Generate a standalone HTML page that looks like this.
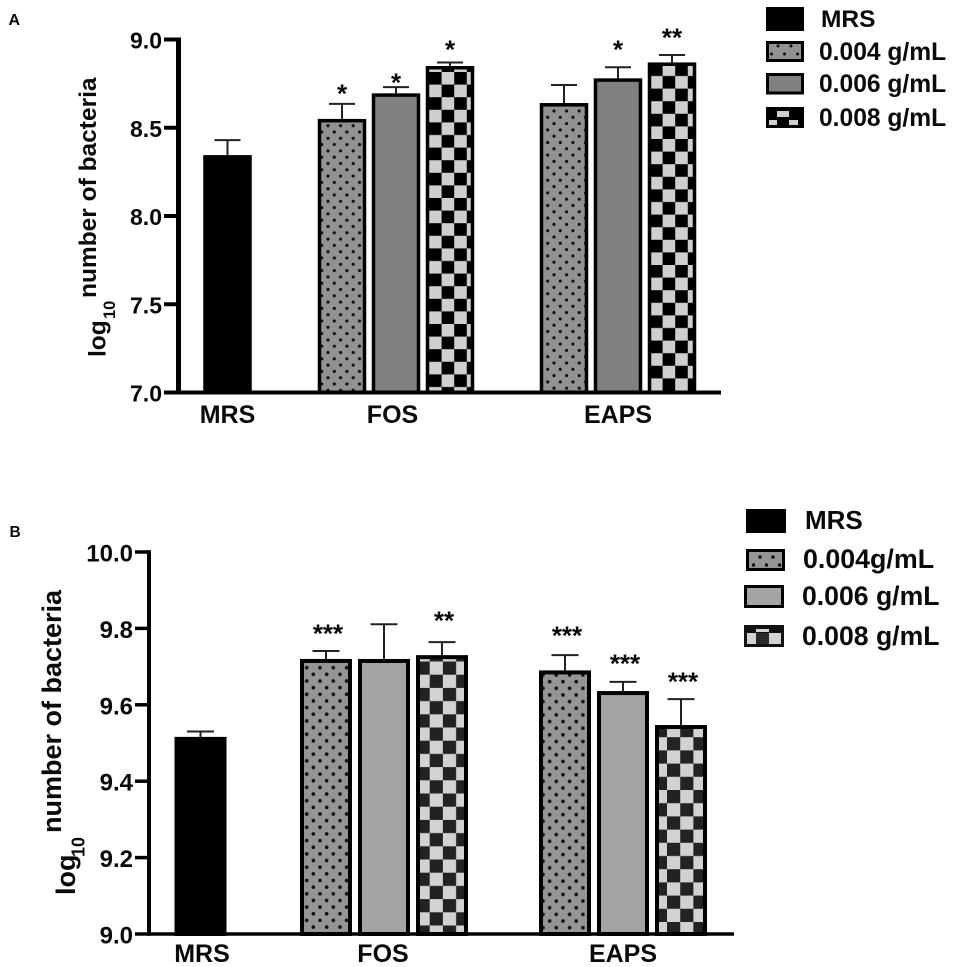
<!DOCTYPE html>
<html lang="en">
<head>
<meta charset="utf-8">
<title>log10 number of bacteria</title>
<style>
html,body{margin:0;padding:0;background:#fff;}
svg{display:block;filter:blur(0.35px);}
text{font-family:"Liberation Sans",Arial,sans-serif;font-weight:bold;fill:#0a0a0a;}
</style>
</head>
<body>
<svg id="figure" xmlns="http://www.w3.org/2000/svg" width="957" height="967" viewBox="0 0 957 967">
<defs>
<pattern id="dots-a1" patternUnits="userSpaceOnUse" width="12.6" height="12.6" patternTransform="translate(328 125.7)"><rect x="-1" y="-1" width="15" height="15" fill="#929292"/><circle cx="0" cy="0" r="1.6" fill="#111"/><circle cx="12.6" cy="0" r="1.6" fill="#111"/><circle cx="0" cy="12.6" r="1.6" fill="#111"/><circle cx="12.6" cy="12.6" r="1.6" fill="#111"/><circle cx="6.3" cy="6.3" r="1.6" fill="#111"/></pattern>
<pattern id="dots-a2" patternUnits="userSpaceOnUse" width="12.6" height="12.6" patternTransform="translate(554 111)"><rect x="-1" y="-1" width="15" height="15" fill="#929292"/><circle cx="0" cy="0" r="1.6" fill="#111"/><circle cx="12.6" cy="0" r="1.6" fill="#111"/><circle cx="0" cy="12.6" r="1.6" fill="#111"/><circle cx="12.6" cy="12.6" r="1.6" fill="#111"/><circle cx="6.3" cy="6.3" r="1.6" fill="#111"/></pattern>
<pattern id="dots-b1" patternUnits="userSpaceOnUse" width="13.3" height="13.3" patternTransform="translate(306.7 667.7)"><rect x="-1" y="-1" width="16" height="16" fill="#959597"/><circle cx="0" cy="0" r="1.8" fill="#111"/><circle cx="13.3" cy="0" r="1.8" fill="#111"/><circle cx="0" cy="13.3" r="1.8" fill="#111"/><circle cx="13.3" cy="13.3" r="1.8" fill="#111"/><circle cx="6.65" cy="6.65" r="1.8" fill="#111"/></pattern>
<pattern id="dots-b2" patternUnits="userSpaceOnUse" width="13.3" height="13.3" patternTransform="translate(543 675)"><rect x="-1" y="-1" width="16" height="16" fill="#959597"/><circle cx="0" cy="0" r="1.8" fill="#111"/><circle cx="13.3" cy="0" r="1.8" fill="#111"/><circle cx="0" cy="13.3" r="1.8" fill="#111"/><circle cx="13.3" cy="13.3" r="1.8" fill="#111"/><circle cx="6.65" cy="6.65" r="1.8" fill="#111"/></pattern>
<pattern id="check-a1" patternUnits="userSpaceOnUse" width="25.2" height="25.2" patternTransform="translate(429 72)"><rect width="25.2" height="25.2" fill="#cfcfcf"/><rect width="12.6" height="12.6" fill="#000"/><rect x="12.6" y="12.6" width="12.6" height="12.6" fill="#000"/></pattern>
<pattern id="check-a2" patternUnits="userSpaceOnUse" width="25.2" height="25.2" patternTransform="translate(650 63.4)"><rect width="25.2" height="25.2" fill="#cfcfcf"/><rect width="12.6" height="12.6" fill="#000"/><rect x="12.6" y="12.6" width="12.6" height="12.6" fill="#000"/></pattern>
<pattern id="check-b1" patternUnits="userSpaceOnUse" width="26.4" height="26.4" patternTransform="translate(416.5 661.5)"><rect width="26.4" height="26.4" fill="#d2d2d2"/><rect width="13.2" height="13.2" fill="#222"/><rect x="13.2" y="13.2" width="13.2" height="13.2" fill="#222"/></pattern>
<pattern id="check-b2" patternUnits="userSpaceOnUse" width="26.4" height="26.4" patternTransform="translate(667 922)"><rect width="26.4" height="26.4" fill="#d2d2d2"/><rect width="13.2" height="13.2" fill="#222"/><rect x="13.2" y="13.2" width="13.2" height="13.2" fill="#222"/></pattern>
<pattern id="dots-leg-a" patternUnits="userSpaceOnUse" width="26" height="16" patternTransform="translate(778 46)"><rect width="26" height="16" fill="#929292"/><circle cx="0" cy="0" r="1.5" fill="#111"/><circle cx="26" cy="0" r="1.5" fill="#111"/><circle cx="0" cy="16" r="1.5" fill="#111"/><circle cx="26" cy="16" r="1.5" fill="#111"/><circle cx="13" cy="0" r="1.5" fill="#111"/><circle cx="13" cy="16" r="1.5" fill="#111"/><circle cx="6.5" cy="8" r="1.5" fill="#111"/><circle cx="19.5" cy="8" r="1.5" fill="#111"/></pattern>
<pattern id="dots-leg-b" patternUnits="userSpaceOnUse" width="26" height="16" patternTransform="translate(760 557)"><rect width="26" height="16" fill="#959597"/><circle cx="0" cy="0" r="1.7" fill="#111"/><circle cx="26" cy="0" r="1.7" fill="#111"/><circle cx="0" cy="16" r="1.7" fill="#111"/><circle cx="26" cy="16" r="1.7" fill="#111"/><circle cx="13" cy="0" r="1.7" fill="#111"/><circle cx="13" cy="16" r="1.7" fill="#111"/><circle cx="6.5" cy="8" r="1.7" fill="#111"/><circle cx="19.5" cy="8" r="1.7" fill="#111"/></pattern>
</defs>

<text x="8.5" y="25" font-size="16">A</text>
<text x="9.5" y="537" font-size="15.5">B</text>

<g id="chart-a"></g>
<g id="chart-b"></g>

<g>
<text transform="translate(96 298) rotate(-90)" font-size="24.5">number of bacteria</text>
<text transform="translate(105.5 357) rotate(-90)" font-size="24.5">log</text>
<text transform="translate(115 319) rotate(-90)" font-size="16.5">10</text>
</g>
<g>
<text transform="translate(61 833) rotate(-90)" font-size="27">number of bacteria</text>
<text transform="translate(75 895) rotate(-90)" font-size="27">log</text>
<text transform="translate(84.5 857) rotate(-90)" font-size="18">10</text>
</g>

<g>
<rect x="766" y="7" width="38" height="24" fill="#000"/>
<text x="821" y="27" font-size="24.5">MRS</text>
<rect x="767.5" y="42.5" width="35" height="18" fill="url(#dots-leg-a)" stroke="#000" stroke-width="3"/>
<text x="819" y="60" font-size="24.6">0.004 g/mL</text>
<rect x="767.5" y="74.5" width="35" height="18.5" fill="#808080" stroke="#000" stroke-width="3"/>
<text x="819" y="92" font-size="24.6">0.006 g/mL</text>
<g>
<rect x="766" y="107" width="38" height="21" fill="#000"/>
<rect x="777" y="111" width="12" height="6" fill="#cfcfcf"/>
<rect x="769" y="120" width="8" height="5" fill="#cfcfcf"/>
<rect x="789" y="120" width="9" height="5" fill="#cfcfcf"/>
</g>
<text x="819" y="126" font-size="24.6">0.008 g/mL</text>
</g>

<g>
<rect x="746" y="509" width="40" height="24" fill="#000"/>
<text x="805" y="529" font-size="26">MRS</text>
<rect x="747.5" y="550.5" width="36" height="19" fill="url(#dots-leg-b)" stroke="#000" stroke-width="3"/>
<text x="803" y="568" font-size="26.8">0.004g/mL</text>
<rect x="745.5" y="586.5" width="37" height="20" fill="#a3a3a6" stroke="#000" stroke-width="3"/>
<text x="802" y="605" font-size="26.6">0.006 g/mL</text>
<g>
<rect x="744" y="625" width="40" height="22" fill="#111"/>
<rect x="747" y="633" width="9" height="11" fill="#d2d2d2"/>
<rect x="769" y="633" width="12" height="11" fill="#d2d2d2"/>
<rect x="756" y="629" width="13" height="3" fill="#d2d2d2"/>
<rect x="756" y="633" width="13" height="11" fill="#2a2a2a"/>
</g>
<text x="802" y="645" font-size="26.6">0.008 g/mL</text>
</g>
</svg>

<script>
// Shared categories
const groupNames = ["MRS", "FOS", "EAPS"];
const barGroups = [0, 1, 1, 1, 2, 2, 2];
const barSlots = [0, 0, 1, 2, 0, 1, 2];

// Panel A data
const valuesA = [8.345, 8.55, 8.695, 8.85, 8.64, 8.78, 8.87];
const errorsA = [0.085, 0.085, 0.035, 0.02, 0.102, 0.063, 0.042];
const sigLabelsA = ["", "*", "*", "*", "", "*", "**"];
const sigHeightsA = [0, 8.714, 8.776, 8.963, 0, 8.963, 9.031];
const tickLabelsA = ["7.0", "7.5", "8.0", "8.5", "9.0"];

// Panel B data
const valuesB = [9.516, 9.72, 9.72, 9.73, 9.69, 9.636, 9.547];
const errorsB = [0.014, 0.021, 0.091, 0.034, 0.04, 0.024, 0.068];
const sigLabelsB = ["", "***", "", "**", "***", "***", "***"];
const sigHeightsB = [0, 9.796, 0, 9.83, 9.791, 9.717, 9.67];
const tickLabelsB = ["9.0", "9.2", "9.4", "9.6", "9.8", "10.0"];

const SVG_NS = "http://www.w3.org/2000/svg";

function make(parent, tag, attrs, text) {
  const el = document.createElementNS(SVG_NS, tag);
  for (const k in attrs) el.setAttribute(k, attrs[k]);
  if (text !== undefined) el.textContent = text;
  parent.appendChild(el);
  return el;
}

function drawPanel(root, cfg) {
  const min = parseFloat(cfg.ticks[0]);
  const max = parseFloat(cfg.ticks[cfg.ticks.length - 1]);
  const y = v => cfg.yBottom + (v - min) / (max - min) * (cfg.yTop - cfg.yBottom);
  const x = i => cfg.groupStart[barGroups[i]] + barSlots[i] * cfg.slotStep;

  cfg.values.forEach((v, i) => {
    const cx = x(i);
    const top = y(v);
    const errTop = y(v + cfg.errors[i]);
    const half = cfg.barWidth / 2;
    const s = cfg.barStroke;

    const stem = make(root, "line", {x1: cx, x2: cx, y1: top, y2: errTop, stroke: "#222", "stroke-width": 2});
    
    
    const cap = make(root, "line", {x1: cx - cfg.capHalf, x2: cx + cfg.capHalf, y1: errTop, y2: errTop, stroke: "#222", "stroke-width": 2});
    
    

    const bar = make(root, "rect", {
      x: cx - half + s / 2,
      y: top + s / 2,
      width: cfg.barWidth - s,
      height: Math.max(0, cfg.yBottom - top - s / 2),
      fill: cfg.fills[i],
      stroke: "#000",
      "stroke-width": s
    });
    
    

    if (cfg.sigLabels[i]) {
      const star = make(root, "text", {
        x: cx + cfg.sigShift,
        y: y(cfg.sigHeights[i]) + 12.5,
        "font-size": 26,
        "text-anchor": "middle"
      }, cfg.sigLabels[i]);
      
      
    }
  });

  const yAxis = make(root, "line", {x1: cfg.axisX, x2: cfg.axisX, y1: cfg.yTop - cfg.tickWidth / 2, y2: cfg.yBottom + cfg.tickWidth / 2, stroke: "#000", "stroke-width": cfg.axisWidth});
  
  
  const xAxis = make(root, "line", {x1: cfg.axisX, x2: cfg.axisEnd, y1: cfg.yBottom, y2: cfg.yBottom, stroke: "#000", "stroke-width": cfg.tickWidth});
  
  

  cfg.ticks.forEach(label => {
    const ty = y(parseFloat(label));
    const tick = make(root, "line", {x1: cfg.tickStart, x2: cfg.axisX, y1: ty, y2: ty, stroke: "#000", "stroke-width": cfg.tickWidth});
    
    
    const t = make(root, "text", {x: cfg.labelEnd, y: ty + cfg.labelDrop, "font-size": cfg.tickFont, "text-anchor": "end"}, label);
    
    
  });

  groupNames.forEach((name, g) => {
    const t = make(root, "text", {x: cfg.groupLabelX[g], y: cfg.groupLabelY, "font-size": 25, "text-anchor": "middle"}, name);
    
    
  });
}

drawPanel(document.getElementById("chart-a"), {
  values: valuesA, errors: errorsA, sigLabels: sigLabelsA, sigHeights: sigHeightsA, ticks: tickLabelsA,
  fills: ["#000", "url(#dots-a1)", "#808080", "url(#check-a1)", "url(#dots-a2)", "#808080", "url(#check-a2)"],
  yBottom: 392.5, yTop: 39.5, axisX: 178.5, axisEnd: 721, axisWidth: 5, tickWidth: 4,
  tickStart: 164, labelEnd: 162, labelDrop: 9, tickFont: 23,
  groupStart: [227.5, 342, 564], slotStep: 54, barWidth: 48.5, barStroke: 3.5, capHalf: 13, sigShift: 0,
  groupLabelX: [227.5, 392.5, 618], groupLabelY: 423
});

drawPanel(document.getElementById("chart-b"), {
  values: valuesB, errors: errorsB, sigLabels: sigLabelsB, sigHeights: sigHeightsB, ticks: tickLabelsB,
  fills: ["#000", "url(#dots-b1)", "#a3a3a6", "url(#check-b1)", "url(#dots-b2)", "#a3a3a6", "url(#check-b2)"],
  yBottom: 934, yTop: 552, axisX: 149, axisEnd: 734, axisWidth: 4, tickWidth: 3.5,
  tickStart: 135, labelEnd: 133, labelDrop: 9.5, tickFont: 24,
  groupStart: [200.5, 326, 565], slotStep: 58, barWidth: 52, barStroke: 4, capHalf: 13.5, sigShift: 2,
  groupLabelX: [202, 383, 623], groupLabelY: 962
});
</script>
</body>
</html>
